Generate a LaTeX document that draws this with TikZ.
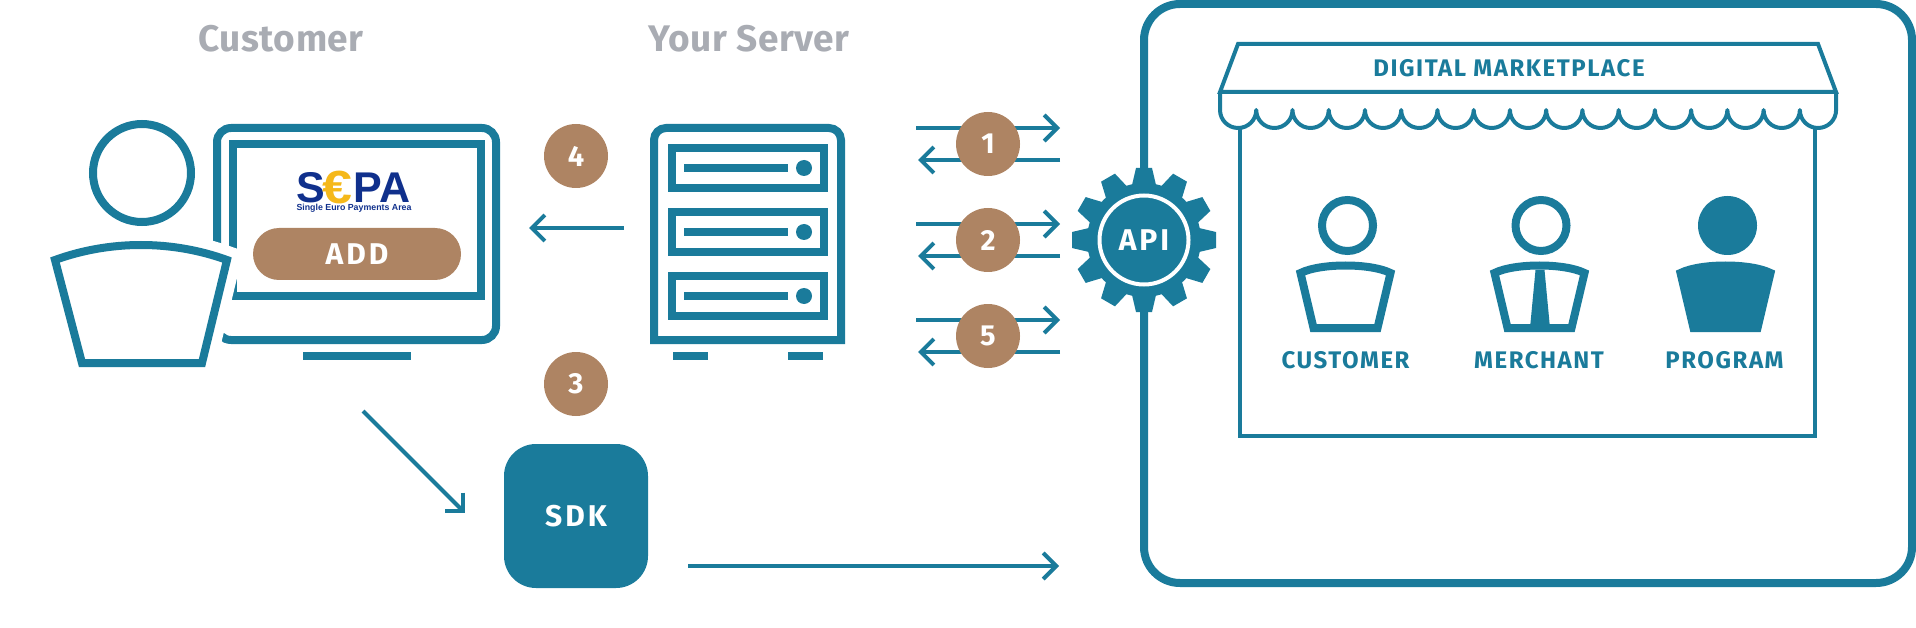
\documentclass[tikz,border=0pt]{standalone}
\usepackage{fontspec}
\setmainfont{Fira Sans}
\newfontfamily\sepafont{Liberation Sans}
\usetikzlibrary{arrows.meta}
\definecolor{oceanteal}{HTML}{1A7B9B}
\definecolor{mocha}{HTML}{AE8463}
\definecolor{titlegray}{HTML}{A9ACB3}
\definecolor{sepablue}{HTML}{10308C}
\definecolor{sepagold}{HTML}{F5B81A}
\tikzstyle{heavy}=[draw=oceanteal, line width=8pt]
\tikzstyle{shopline}=[draw=oceanteal, line width=4pt]
\tikzstyle{flow}=[draw=oceanteal, line width=4pt, ->, >={Straight Barb[length=13pt,width=26pt]}]
\tikzstyle{badge}=[circle, fill=mocha, text=white, minimum size=64pt, inner sep=0pt, font=\fontsize{29}{29}\selectfont\bfseries]
\tikzstyle{title}=[text=titlegray, inner sep=0pt, font=\fontsize{37}{37}\selectfont\bfseries\addfontfeature{LetterSpace=1.5}]
\tikzstyle{shoplabel}=[text=oceanteal, inner sep=0pt, font=\fontsize{24}{24}\selectfont\bfseries\addfontfeature{LetterSpace=6.5}]
\tikzstyle{whitelabel}=[text=white, inner sep=0pt, font=\fontsize{30}{30}\selectfont\bfseries\addfontfeature{LetterSpace=10}]
\tikzstyle{sepaletter}=[inner sep=0pt, text=sepablue, font=\sepafont\fontsize{43}{43}\selectfont\bfseries]
\newcommand{\torso}{(-45,273) .. controls (-25,263) and (25,263) .. (45,273) -- (32,328) -- (-32,328) -- cycle}

\begin{document}
\begin{tikzpicture}[x=1pt, y=-1pt]
  \useasboundingbox (0,0) rectangle (1916,628);

  \node[title] (customer) at (281,39) {Customer};
  \node[title] (yourserver) at (749,39) {Your Server};

  % monitor
  \draw[heavy, rounded corners=14pt] (217,128) rectangle (496,340);
  \draw[heavy] (233,144) rectangle (481,296);
  \fill[oceanteal] (303,352) rectangle (411,360);
  \node[rectangle, fill=mocha, rounded corners=26pt, minimum width=208pt, minimum height=52pt, inner sep=0pt, whitelabel] (add) at (357,254) {ADD};

  % sepa logo
  \node[sepaletter] (sepas) at (311,187.5) {S};
  \node[sepaletter] (sepapa) at (382,187.5) {PA};
  \node[sepaletter, text=sepagold, xscale=1.25, yscale=1.08] (sepaeuro) at (337,187.5) {€};
  \node[sepaletter, font=\sepafont\fontsize{8.8}{8.8}\selectfont\bfseries] (sepasub) at (354,208.5) {Single Euro Payments Area};

  % person at the monitor
  \draw[white, line width=28pt, fill=white] (55,260) .. controls (110,240) and (172,240) .. (227,260) -- (202,363) -- (82,363) -- cycle;
  \draw[heavy] (142,173) circle [radius=49];
  \draw[heavy, line join=miter] (55,260) .. controls (110,240) and (172,240) .. (227,260) -- (202,363) -- (82,363) -- cycle;

  % server
  \draw[heavy] (654,340) [rounded corners=12pt] -- (654,128) -- (841,128) [sharp corners] -- (841,340) -- cycle;
  \foreach \yy in {144,208,272} {
    \draw[heavy] (672,\yy+4) rectangle (824,\yy+44);
    \fill[oceanteal] (684,\yy+20) rectangle (788,\yy+28);
    \fill[oceanteal] (804,\yy+24) circle [radius=8];
  }
  \fill[oceanteal] (673,352) rectangle (708,360);
  \fill[oceanteal] (788,352) rectangle (823,360);

  % marketplace frame and gear
  \draw[heavy, rounded corners=36pt] (1144,4) rectangle (1912,583);
  \coordinate (gear) at (1144,240);
  \fill[oceanteal] (gear) circle [radius=57];
  \foreach \ang in {0,30,...,330} {
    \fill[oceanteal, rotate around={\ang:(gear)}] (1132,185) -- (1136,168) -- (1152,168) -- (1156,185) -- cycle;
  }
  \draw[white, line width=4pt] (gear) circle [radius=44.5];
  \node[whitelabel] (api) at (gear) {API};

  % flows and badges
  \foreach \n/\yy in {1/144,2/240,5/336} {
    \coordinate (out\n) at (916,\yy-16);
    \coordinate (in\n) at (1060,\yy-16);
    \coordinate (back\n) at (1060,\yy+16);
    \coordinate (home\n) at (918,\yy+16);
    \draw[flow] (out\n) -- (in\n);
    \draw[flow] (back\n) -- (home\n);
    \node[badge] (step\n) at (988,\yy) {\n};
  }
  \coordinate (serverout) at (624,228);
  \coordinate (monitorin) at (529,228);
  \draw[flow] (serverout) -- (monitorin);
  \node[badge] (step4) at (576,156) {4};
  \node[badge] (step3) at (576,384) {3};

  % sdk
  \node[rectangle, fill=oceanteal, rounded corners=32pt, minimum size=144pt, inner sep=0pt, whitelabel] (sdk) at (576,516) {SDK};
  \coordinate (personout) at (363,411);
  \coordinate (sdkin) at (465,513);
  \draw[flow] (personout) -- (sdkin);
  \coordinate (sdkout) at (688,566);
  \coordinate (frontin) at (1059,566);
  \draw[flow] (sdkout) -- (frontin);

  % shop
  \draw[shopline] (1238,44) -- (1818,44) -- (1836,92) -- (1220,92) -- cycle;
  \draw[shopline] (1240,128) -- (1240,436) -- (1815,436) -- (1815,128);
  \draw[shopline, line join=round] (1220,92) -- (1220,110)
    \foreach \k in {1,...,17} { arc [start angle=180, end angle=0, x radius=18.12, y radius=18] }
    -- (1836,92);
  \node[shoplabel] (market) at (1509,68) {DIGITAL MARKETPLACE};

  % people in the shop
  \draw[heavy] (1347.5,225.5) circle [radius=25.5];
  \draw[heavy, xshift=1345.5pt] \torso;
  \draw[heavy] (1541,225.5) circle [radius=25.5];
  \draw[heavy, xshift=1539.5pt] \torso;
  \fill[oceanteal] (1535.5,270) -- (1544.5,270) -- (1550,328) -- (1530,328) -- cycle;
  \fill[oceanteal] (1727.5,225.5) circle [radius=29.5];
  \draw[heavy, fill=oceanteal, xshift=1725.5pt] \torso;
  \node[shoplabel] (lblcustomer) at (1345.5,360) {CUSTOMER};
  \node[shoplabel] (lblmerchant) at (1539,360) {MERCHANT};
  \node[shoplabel] (lblprogram) at (1724.5,360) {PROGRAM};
\end{tikzpicture}
\end{document}
